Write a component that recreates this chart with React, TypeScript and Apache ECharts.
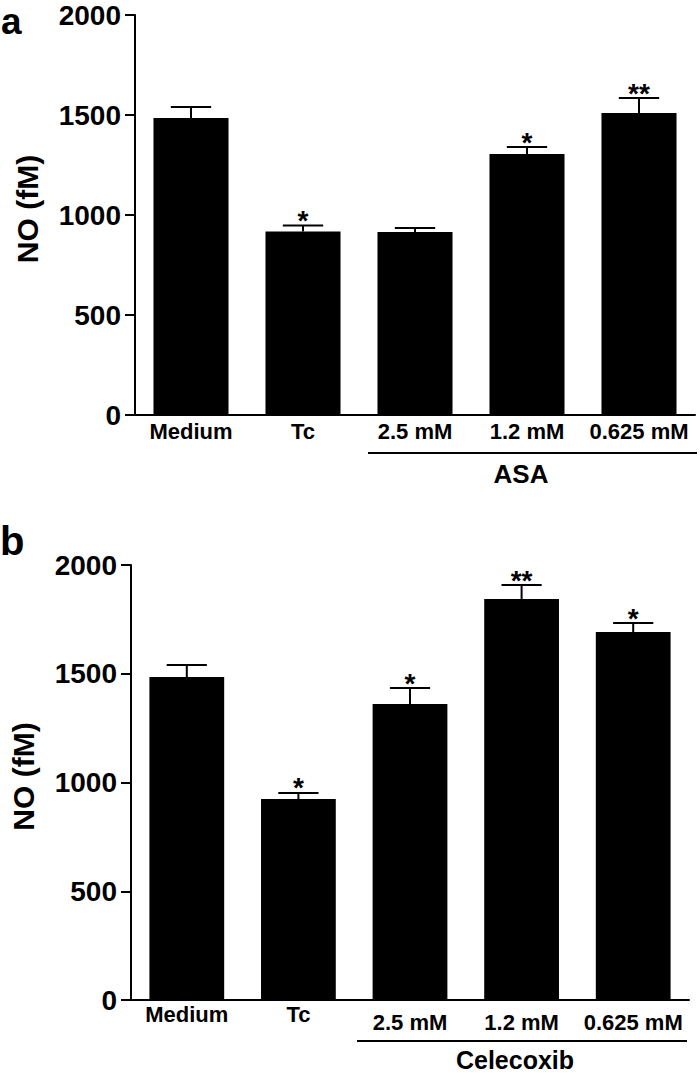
import React, { useEffect, useRef } from "react";
import * as echarts from "echarts";

const categories = ["Medium", "Tc", "2.5 mM", "1.2 mM", "0.625 mM"];
const asaMeans = [1485, 918, 915, 1305, 1510];
const asaErrors = [55, 30, 20, 35, 75];
const asaStars = ["", "*", "", "*", "**"];
const celMeans = [1485, 924, 1361, 1844, 1692];
const celErrors = [55, 28, 73, 64, 41];
const celStars = ["", "*", "*", "**", "*"];
const yMin = 0;
const yMax = 2000;
const yInterval = 500;

const FONT = '"Liberation Sans", Arial, Helvetica, sans-serif';

function errorSeries(means: number[], errs: number[], stars: string[], idx: number) {
  return {
    type: "custom",
    xAxisIndex: idx,
    yAxisIndex: idx,
    z: 5,
    data: means.map((m, i) => [i, m, m + errs[i]]),
    renderItem: (params: any, api: any) => {
      const i = api.value(0);
      const p0 = api.coord([i, api.value(1)]);
      const p1 = api.coord([i, api.value(2)]);
      const band = api.size([1, 0])[0];
      const hw = band * 0.18;
      const star = stars[params.dataIndex];
      const children: any[] = [
        { type: "line", shape: { x1: p0[0], y1: p0[1], x2: p1[0], y2: p1[1] }, style: { stroke: "#000", lineWidth: 2 } },
        { type: "line", shape: { x1: p1[0] - hw, y1: p1[1], x2: p1[0] + hw, y2: p1[1] }, style: { stroke: "#000", lineWidth: 2 } },
      ];
      if (star) {
        children.push({
          type: "text",
          x: p1[0],
          y: p1[1] - 5,
          style: { text: star, fill: "#000", fontSize: 28, fontWeight: "bold", fontFamily: FONT, align: "center", verticalAlign: "middle" },
        });
      }
      return { type: "group", children };
    },
  };
}

function xAxisCfg(idx: number, lowTreat: boolean, margin: number) {
  return {
    type: "category",
    gridIndex: idx,
    data: categories,
    axisTick: { show: false },
    axisLine: { lineStyle: { color: "#000", width: 2 } },
    axisLabel: {
      margin,
      interval: 0,
      formatter: (v: string, i: number) => (i >= 2 ? `{lo|${v}}` : `{hi|${v}}`),
      rich: {
        hi: { fontSize: 22, fontWeight: "bold", fontFamily: FONT, color: "#000", lineHeight: 22 },
        lo: { fontSize: 22, fontWeight: "bold", fontFamily: FONT, color: "#000", lineHeight: lowTreat ? 38 : 22 },
      },
    },
  };
}

function yAxisCfg(idx: number) {
  return {
    type: "value",
    gridIndex: idx,
    min: yMin,
    max: yMax,
    interval: yInterval,
    splitLine: { show: false },
    axisLine: { show: true, lineStyle: { color: "#000", width: 2 } },
    axisTick: { show: true, length: 10, lineStyle: { color: "#000", width: 2 } },
    axisLabel: {
      margin: 14,
      fontSize: 28,
      fontWeight: "bold",
      fontFamily: FONT,
      color: "#000",
      formatter: (v: number) => String(v),
    },
    name: "NO (fM)",
    nameLocation: "middle",
    nameGap: 93,
    nameTextStyle: { fontSize: 30, fontWeight: "bold", fontFamily: FONT, color: "#000", padding: [0, 0, 0, 12] },
  };
}

export default function App() {
  const ref = useRef<HTMLDivElement>(null);
  useEffect(() => {
    if (!ref.current) return;
    const chart = echarts.init(ref.current, undefined, { renderer: "svg" });
    chart.setOption({
      animation: false,
      backgroundColor: "#fff",
      grid: [
        { left: 135, top: 15, width: 560, height: 400 },
        { left: 123, top: 565, width: 566, height: 435 },
      ],
      xAxis: [xAxisCfg(0, false, 5), xAxisCfg(1, true, 3)],
      yAxis: [yAxisCfg(0), yAxisCfg(1)],
      series: [
        { type: "bar", xAxisIndex: 0, yAxisIndex: 0, data: asaMeans, barWidth: "67%", itemStyle: { color: "#000" } },
        errorSeries(asaMeans, asaErrors, asaStars, 0),
        { type: "bar", xAxisIndex: 1, yAxisIndex: 1, data: celMeans, barWidth: "67%", itemStyle: { color: "#000" } },
        errorSeries(celMeans, celErrors, celStars, 1),
      ],
      graphic: [
        { type: "text", x: 1, y: 21, style: { text: "a", fontSize: 37, fontWeight: "bold", fontFamily: FONT, fill: "#000", align: "left", verticalAlign: "middle" } },
        { type: "text", x: 0, y: 541, style: { text: "b", fontSize: 40, fontWeight: "bold", fontFamily: FONT, fill: "#000", align: "left", verticalAlign: "middle" } },
        { type: "line", shape: { x1: 368, y1: 453, x2: 697, y2: 453 }, style: { stroke: "#000", lineWidth: 2 } },
        { type: "text", x: 521, y: 474, style: { text: "ASA", fontSize: 26, fontWeight: "bold", fontFamily: FONT, fill: "#000", align: "center", verticalAlign: "middle" } },
        { type: "line", shape: { x1: 357, y1: 1041, x2: 687, y2: 1041 }, style: { stroke: "#000", lineWidth: 2 } },
        { type: "text", x: 515, y: 1060, style: { text: "Celecoxib", fontSize: 25, fontWeight: "bold", fontFamily: FONT, fill: "#000", align: "center", verticalAlign: "middle" } },
      ],
    });
    return () => chart.dispose();
  }, []);
  return <div ref={ref} style={{ position: "absolute", left: 0, top: 0, width: 700, height: 1075 }} />;
}
